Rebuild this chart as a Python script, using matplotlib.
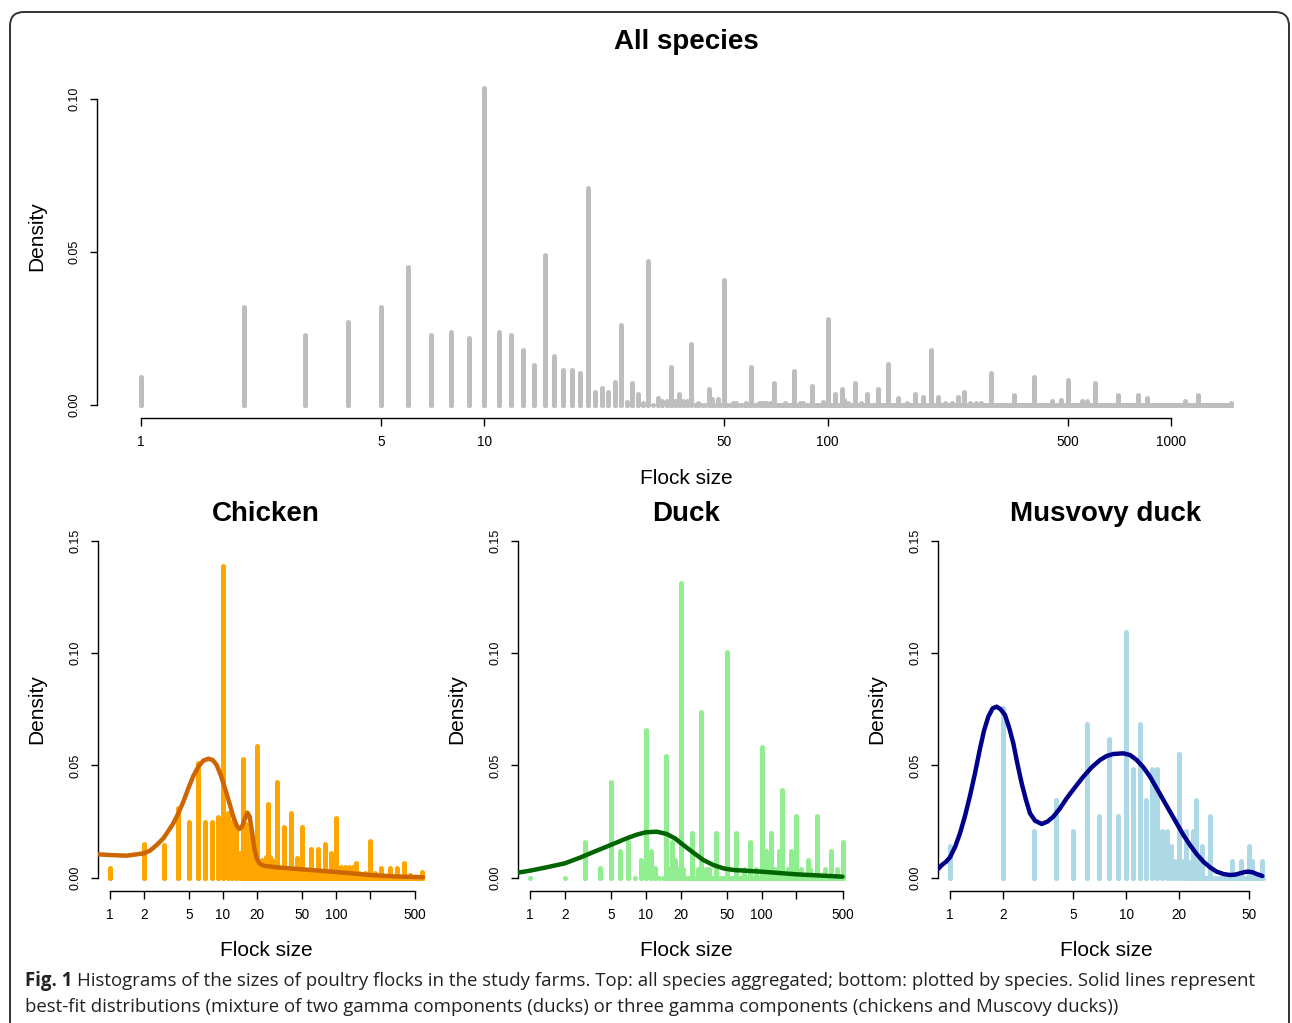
import numpy as np
import matplotlib.pyplot as plt
from matplotlib.patches import FancyBboxPatch
from matplotlib.transforms import IdentityTransform
from matplotlib.ticker import NullLocator

W, H = 1292, 1023
plt.rcParams['font.family'] = ['Liberation Sans', 'DejaVu Sans']

#### data (densities; every other integer size is 0)

all_sizes = [1, 2, 3, 4, 5, 6, 7, 8, 9, 10, 11, 12, 13, 14, 15, 16, 17, 18, 19, 20,
             21, 22, 23, 24, 25, 26, 27, 28, 29, 30, 32, 33, 34, 35, 36, 37, 38, 39, 40, 42,
             45, 46, 48, 50, 53, 54, 58, 60, 63, 64, 65, 66, 68, 70, 75, 80, 83, 85, 90, 97,
             100, 105, 110, 112, 115, 120, 125, 130, 140, 150, 160, 170, 180, 190, 200, 210, 220, 230, 240, 250,
             260, 270, 280, 300, 350, 400, 450, 480, 500, 550, 570, 600, 700, 800, 850, 1100, 1200, 1500]
all_dens = [0.009, 0.032, 0.023, 0.027, 0.032, 0.045, 0.023, 0.024, 0.022, 0.1035, 0.024, 0.023, 0.018, 0.013, 0.049, 0.016, 0.0114, 0.0114, 0.0104, 0.0708,
            0.0044, 0.0054, 0.0044, 0.0074, 0.026, 0.001, 0.0073, 0.0035, 0.0006, 0.047, 0.0023, 0.0012, 0.0012, 0.0123, 0.0012, 0.0035, 0.0012, 0.0012, 0.020, 0.0008,
            0.0052, 0.002, 0.002, 0.041, 0.0008, 0.0008, 0.0008, 0.0123, 0.0008, 0.0008, 0.0008, 0.0008, 0.0008, 0.0073, 0.0008, 0.0112, 0.0008, 0.0008, 0.0063, 0.001,
            0.028, 0.0035, 0.0052, 0.0015, 0.0008, 0.0073, 0.0008, 0.0035, 0.0052, 0.0133, 0.0023, 0.0008, 0.0035, 0.0025, 0.018, 0.0025, 0.0008, 0.0008, 0.0025, 0.0044,
            0.0008, 0.0008, 0.0008, 0.0104, 0.0033, 0.0093, 0.0014, 0.0016, 0.0082, 0.0014, 0.0014, 0.0073, 0.0033, 0.0033, 0.0022, 0.0014, 0.0033, 0.0006]
all_max = 1500

chicken_sizes = [1, 2, 3, 4, 5, 6, 7, 8, 9, 10, 11, 12, 13, 14, 15, 16, 17, 18, 19, 20,
                 21, 22, 23, 24, 25, 26, 27, 28, 29, 30, 32, 33, 35, 36, 38, 40, 42, 45, 48, 50,
                 55, 60, 65, 70, 75, 80, 85, 90, 100, 110, 120, 130, 140, 150, 160, 180, 200, 220, 250, 300,
                 350, 400, 450, 575]
chicken_dens = [0.0045, 0.0149, 0.0147, 0.0309, 0.0247, 0.0509, 0.0247, 0.0247, 0.0269, 0.139, 0.0287, 0.0247, 0.023, 0.0108, 0.0527, 0.024, 0.022, 0.0147, 0.006, 0.0586,
                0.006, 0.008, 0.005, 0.009, 0.0328, 0.009, 0.008, 0.004, 0.003, 0.0427, 0.004, 0.003, 0.0227, 0.003, 0.003, 0.0287, 0.003, 0.0086, 0.003, 0.0227,
                0.003, 0.0126, 0.003, 0.0126, 0.003, 0.0149, 0.002, 0.0108, 0.0267, 0.0047, 0.0047, 0.0047, 0.0047, 0.0065, 0.002, 0.002, 0.0165, 0.002, 0.0045, 0.0045,
                0.0045, 0.0067, 0.001, 0.0024]
chicken_max = 580
chicken_fit_x = [0.778, 1.0, 1.405, 2.0, 2.26, 2.59, 2.965, 3.282, 3.635, 4.025, 4.457, 4.934, 5.464, 6.049, 6.699, 7.418,
                 8.10, 8.79, 9.537, 10.41, 11.30, 12.34, 13.21, 13.95, 14.73, 15.55, 16.42, 17.22, 18.06, 18.94, 19.86,
                 20.97, 22.75, 29.85, 50, 100, 200, 321.8, 589]
chicken_fit_y = [0.0104, 0.0101, 0.0098, 0.01085, 0.01204, 0.01456, 0.01753, 0.02079, 0.02421, 0.02866, 0.03385, 0.03979, 0.04528, 0.04943, 0.05211, 0.0530,
                 0.0524, 0.05018, 0.04573, 0.03979, 0.03385, 0.02717, 0.02317, 0.02168, 0.02272, 0.02599, 0.02895, 0.02717, 0.0205, 0.01308, 0.00862,
                 0.0064, 0.00536, 0.00462, 0.00373, 0.00254, 0.0012, 0.00061, 0.0002]

duck_sizes = [3, 4, 5, 6, 7, 9, 10, 11, 12, 15, 16, 17, 18, 19, 20, 21, 25, 28, 30, 33,
              35, 40, 50, 60, 70, 80, 90, 100, 110, 120, 130, 140, 150, 170, 180, 200, 220, 250, 260, 300,
              350, 400, 450, 500]
duck_dens = [0.0157, 0.0042, 0.0427, 0.0119, 0.0157, 0.0079, 0.0658, 0.0119, 0.0042, 0.0542, 0.0042, 0.0157, 0.008, 0.004, 0.1313, 0.004, 0.0198, 0.004, 0.0736, 0.004,
             0.004, 0.0198, 0.1003, 0.0198, 0.004, 0.0157, 0.004, 0.058, 0.012, 0.0198, 0.004, 0.012, 0.039, 0.004, 0.012, 0.0275, 0.004, 0.0079, 0.004, 0.0275,
             0.004, 0.012, 0.004, 0.0157]
duck_max = 500
duck_fit_x = [0.783, 1.0, 1.39, 2.0, 2.70, 3.77, 4.97, 6.84, 8.34, 9.97, 12.4, 15.14, 17.87, 21.09, 25.73, 31.40, 38.30, 46.72,
              57.0, 100, 200, 500]
duck_fit_y = [0.00224, 0.00313, 0.00462, 0.0064, 0.00892, 0.01204, 0.01456, 0.01753, 0.01916, 0.0202, 0.0205, 0.01946, 0.01753, 0.01456, 0.01115, 0.00788, 0.00565, 0.00417,
              0.00343, 0.00269, 0.0015, 0.00046]

musc_sizes = [1, 2, 3, 4, 5, 6, 7, 8, 9, 10, 11, 12, 13, 14, 15, 16, 17, 18, 19, 20,
              21, 22, 23, 24, 25, 26, 27, 30, 40, 45, 50, 52, 59]
musc_dens = [0.0142, 0.0754, 0.0208, 0.0346, 0.0208, 0.0684, 0.0275, 0.0616, 0.0275, 0.1093, 0.0483, 0.0684, 0.0346, 0.0483, 0.0483, 0.0208, 0.0208, 0.0142, 0.0074, 0.0551,
             0.0074, 0.0208, 0.007, 0.0208, 0.0346, 0.007, 0.0142, 0.0275, 0.0074, 0.0074, 0.0142, 0.0074, 0.0074]
musc_max = 60
musc_fit_x = [0.851, 0.90, 0.95, 1.0, 1.07, 1.14, 1.217, 1.299, 1.387, 1.481, 1.561, 1.651, 1.747, 1.842, 1.941, 2.053,
              2.174, 2.290, 2.413, 2.554, 2.703, 2.848, 3.041, 3.318, 3.573, 3.865, 4.217, 4.601, 5.131, 5.722, 6.381, 7.116,
              7.767, 8.472, 9.656, 10.54, 11.50, 12.55, 13.69, 14.94, 16.30, 17.78, 19.41, 21.18, 23.10, 25.20, 27.50, 30.01,
              32.74, 35.73, 38.98, 41.62, 44.44, 47.45, 49.56, 52.45, 55.26, 59.52]
musc_fit_y = [0.0037, 0.0057, 0.0071, 0.0091, 0.0138, 0.0198, 0.0275, 0.0365, 0.0465, 0.0575, 0.0655, 0.0717, 0.07541, 0.07615, 0.07496, 0.07244,
              0.0665, 0.05983, 0.05092, 0.04202, 0.0346, 0.02866, 0.02539, 0.02391, 0.02495, 0.02717, 0.03089, 0.03534, 0.04024, 0.04498, 0.04914, 0.0524,
              0.05419, 0.05508, 0.05537, 0.05463, 0.0524, 0.04914, 0.04498, 0.03979, 0.0346, 0.0294, 0.02421, 0.01901, 0.01456, 0.01055, 0.00714, 0.00462,
              0.00269, 0.00165, 0.0012, 0.00135, 0.00195, 0.00254, 0.00269, 0.00239, 0.00165, 0.00076]


def full_counts(sizes, dens, nmax):
    # every integer flock size gets a bar, zero where nothing was observed
    x = np.arange(1, nmax + 1)
    y = np.zeros(nmax)
    y[np.array(sizes) - 1] = dens
    return x, y


def make_axes(fig, box, x1_px, dec_px, y0_px, unit_px):
    # box in pixels (left, right, top, bottom); mapping px = x1_px + dec_px*log10(x), px = y0_px - unit_px*y
    left, right, top, bottom = box
    ax = fig.add_axes([left / W, 1 - bottom / H, (right - left) / W, (bottom - top) / H])
    ax.set_xscale('log')
    ax.set_xlim(10 ** ((left - x1_px) / dec_px), 10 ** ((right - x1_px) / dec_px))
    ax.set_ylim((y0_px - bottom) / unit_px, (y0_px - top) / unit_px)
    ax.patch.set_alpha(0)
    return ax


def style_axes(ax, xticks, xlabels, yticks, ylabels):
    for s in ['top', 'right']:
        ax.spines[s].set_visible(False)
    ax.spines['left'].set_bounds(yticks[0], yticks[-1])
    ax.spines['bottom'].set_bounds(xticks[0], xticks[-1])
    for s in ['left', 'bottom']:
        ax.spines[s].set_linewidth(1.0)
    ax.xaxis.set_minor_locator(NullLocator())
    ax.set_xticks(xticks)
    ax.set_xticklabels(xlabels)
    ax.set_yticks(yticks)
    ax.set_yticklabels(ylabels, rotation=90, va='center')
    ax.tick_params(axis='x', direction='out', length=5.5, width=1.0, pad=7, labelsize=9.8)
    ax.tick_params(axis='y', direction='out', length=5, width=1.0, pad=7, labelsize=9.0)


def draw_bars(ax, x, y, color, lw=3.6):
    lc = ax.vlines(x, 0, y, colors=color, linewidth=lw, zorder=2)
    lc.set_capstyle('round')
    ax.plot(x, np.zeros_like(y), 'o', color=color, markersize=lw, markeredgewidth=0, zorder=2)


fig = plt.figure(figsize=(W / 100, H / 100), dpi=100)

# frame round the figure
frame = FancyBboxPatch((10, -30), 1279, H - 12 + 30, boxstyle="round,pad=0,rounding_size=14",
                       transform=IdentityTransform(), facecolor='none', edgecolor='#333333', linewidth=1.4)
fig.patches.append(frame)

#### top: all species
ax = make_axes(fig, (97, 1275, 75, 418), 141, 343.3, 405, 3060)
x, y = full_counts(all_sizes, all_dens, all_max)
draw_bars(ax, x, y, '#BEBEBE')
style_axes(ax, [1, 5, 10, 50, 100, 500, 1000], ['1', '5', '10', '50', '100', '500', '1000'],
           [0, 0.05, 0.10], ['0.00', '0.05', '0.10'])
fig.text(686 / W, 1 - 42 / H, 'All species', ha='center', va='center', fontsize=20, fontweight='bold')
fig.text(686 / W, 1 - 478 / H, 'Flock size', ha='center', va='center', fontsize=15)
fig.text(37 / W, 1 - 236 / H, 'Density', ha='center', va='center', fontsize=15, rotation=90)

#### bottom: by species
panels = [
    ('Chicken', chicken_sizes, chicken_dens, chicken_max, chicken_fit_x, chicken_fit_y, 'orange', '#CD6600',
     110, 113.0, [1, 2, 5, 10, 20, 50, 100, 200, 500], ['1', '2', '5', '10', '20', '50', '100', '', '500']),
    ('Duck', duck_sizes, duck_dens, duck_max, duck_fit_x, duck_fit_y, '#90EE90', '#006400',
     530, 115.8, [1, 2, 5, 10, 20, 50, 100, 200, 500], ['1', '2', '5', '10', '20', '50', '100', '', '500']),
    ('Musvovy duck', musc_sizes, musc_dens, musc_max, musc_fit_x, musc_fit_y, '#ADD8E6', '#00008B',
     950, 176.0, [1, 2, 5, 10, 20, 50], ['1', '2', '5', '10', '20', '50']),
]

for i, (name, sizes, dens, nmax, fx, fy, bar_col, fit_col, x1_px, dec_px, xt, xl) in enumerate(panels):
    off = 420 * i
    ax = make_axes(fig, (97.7 + off, 430 + off, 527, 891), x1_px, dec_px, 877.7, 2246)
    x, y = full_counts(sizes, dens, nmax)
    draw_bars(ax, x, y, bar_col)
    ax.plot(fx, fy, color=fit_col, linewidth=3.2, solid_capstyle='round', solid_joinstyle='round', zorder=3)
    style_axes(ax, xt, xl, [0, 0.05, 0.10, 0.15], ['0.00', '0.05', '0.10', '0.15'])
    cx = (97.7 + 430) / 2 + off + 2
    fig.text(cx / W, 1 - 514 / H, name, ha='center', va='center', fontsize=20, fontweight='bold')
    fig.text(cx / W, 1 - 950 / H, 'Flock size', ha='center', va='center', fontsize=15)
    fig.text((37 + off) / W, 1 - 709 / H, 'Density', ha='center', va='center', fontsize=15, rotation=90)

#### caption
cap_size = 13.4
t1 = fig.text(25 / W, 1 - 981 / H, 'Fig. 1', ha='left', va='center', fontsize=cap_size,
              fontweight='bold', family='Open Sans', color='#222222')
r = fig.canvas.get_renderer()
bb = t1.get_window_extent(renderer=r)
fig.text((bb.x1 + 5) / W, 1 - 981 / H,
         'Histograms of the sizes of poultry flocks in the study farms. Top: all species aggregated; '
         'bottom: plotted by species. Solid lines represent',
         ha='left', va='center', fontsize=cap_size, family='Open Sans', color='#222222')
fig.text(25 / W, 1 - 1007 / H,
         'best-fit distributions (mixture of two gamma components (ducks) or three gamma components '
         '(chickens and Muscovy ducks))',
         ha='left', va='center', fontsize=cap_size, family='Open Sans', color='#222222')

fig.savefig('out.png', dpi=100)
